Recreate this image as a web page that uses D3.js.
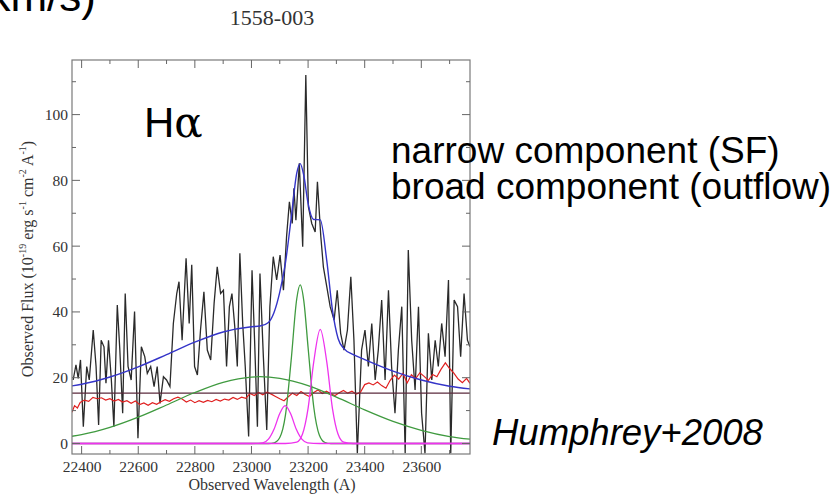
<!DOCTYPE html>
<html>
<head>
<meta charset="utf-8">
<script src="https://cdn.jsdelivr.net/npm/d3@7"></script>
<style>
  body { margin: 0; background: #fff; }
  svg { display: block; }
  .tick-label { font-family: "Liberation Serif", "DejaVu Serif", serif; font-size: 15.5px; fill: #333; }
</style>
</head>
<body>
<svg width="835" height="495"></svg>
<script>
// observed spectrum (black)
var specWl = [22370,22380,22388,22396,22406,22418,22427,22441,22451,22460,22469,22479,22486,22495,22505,22514,22526,22535,22545,22554,22564,22575,22587,22599,22611,22623,22632,22644,22656,22667,22677,22689,22700,22712,22724,22736,22744,22755,22769,22780,22789,22799,22809,22820,22832,22844,22856,22868,22879,22891,22901,22912,22922,22931,22941,22950,22959,22969,22978,22990,23002,23011,23021,23030,23042,23054,23065,23077,23089,23101,23113,23124,23134,23144,23150,23157,23169,23181,23192,23201,23213,23225,23233,23245,23254,23266,23278,23292,23303,23315,23327,23339,23351,23362,23374,23389,23401,23413,23425,23437,23448,23460,23472,23484,23495,23507,23519,23531,23543,23554,23566,23578,23590,23601,23613,23625,23637,23649,23660,23672,23684,23696,23704,23716,23728,23739,23751,23763,23772];
var specFlux = [19.3,23.9,19.8,25.4,5.1,23.4,19.3,34.5,23.4,5.6,31.4,29.4,18.3,31.4,19.3,5.1,42.1,28.4,9.2,45.6,23.4,19.3,40.1,1.6,29.4,26.4,21.3,23.4,17.3,23.4,12.2,20.3,19.3,17.3,36.5,45.6,49.2,31.4,56.3,36.5,54.3,23.4,20.8,34.5,46.1,28.4,25.4,42.6,53.7,45.6,46.6,23.4,41.6,45.6,35.5,23.4,57.8,36.5,23.4,2.1,52.7,31.4,5.1,51.7,26.4,4.1,41.6,56.8,49.7,57.3,46.6,62.9,73.5,66.9,77.6,67.9,85.2,59.8,112,72,66.9,64.3,79.6,62.9,53.7,47.7,41.6,37.5,46.6,33.5,28.4,34.5,50.7,31.4,-3,28.4,34.5,23.4,36.5,19.3,28.4,43.6,19.3,46.6,23.4,9.2,28.4,41.6,-3,58.8,31.4,16.3,41.6,9.2,-3,33.5,19.3,31.4,23.4,36.5,26.4,49.7,-3,43.6,41.6,26.4,45.6,31.4,29.4];

// sky / noise spectrum (red)
var skyWl = [22366,22375,22385,22395,22410,22425,22440,22455,22470,22485,22500,22515,22530,22545,22560,22575,22590,22605,22620,22635,22650,22665,22680,22695,22710,22725,22740,22755,22770,22785,22800,22815,22830,22845,22860,22875,22890,22905,22920,22935,22950,22965,22980,22995,23010,23025,23040,23055,23070,23085,23100,23115,23130,23145,23160,23175,23190,23205,23220,23235,23250,23265,23280,23295,23310,23325,23340,23355,23370,23385,23400,23415,23430,23445,23460,23475,23490,23505,23520,23535,23550,23565,23580,23595,23610,23625,23640,23655,23670,23685,23700,23715,23730,23745,23760,23772];
var skyFlux = [9.5,11.5,10.8,12.5,13.2,12.8,14.0,13.6,13.9,13.2,13.6,12.9,13.4,12.6,13.0,12.2,12.9,11.8,12.3,11.6,12.4,11.9,12.7,13.3,12.8,13.6,14.1,13.5,12.6,13.2,12.4,13.0,12.5,13.1,12.7,13.4,12.9,13.5,13.2,14.0,13.4,14.1,13.7,15.2,14.6,15.5,14.8,15.6,15.0,14.3,13.6,13.0,14.2,15.3,14.6,15.8,14.9,14.3,15.5,16.3,15.2,15.9,15.1,14.6,15.4,16.1,15.3,15.9,15.0,15.6,17.9,18.4,17.8,18.7,17.6,16.8,19.2,20.8,19.6,21.3,18.4,20.9,19.7,21.5,20.4,19.2,21.0,20.3,22.6,24.5,22.8,21.4,19.6,18.5,19.8,18.3];

// continuum level (horizontal line)
var contLevel = 15.3;

// broad Halpha component (green)
var broadWl = [22366,22400,22500,22600,22700,22800,22900,23000,23030,23100,23200,23300,23400,23500,23600,23700,23772];
var broadFlux = [2.2,2.7,4.9,8.0,11.7,15.5,18.6,20.2,20.3,19.8,17.6,14.1,10.2,6.7,4.0,2.1,1.3];

// narrow Halpha component (green)
var narrowWl = [22366,23040,23060,23080,23100,23120,23140,23160,23172,23185,23200,23220,23240,23260,23280,23772];
var narrowFlux = [0,0,0,0.2,1.8,8.6,25.1,44.0,48.2,43.3,29.2,11.1,2.5,0.3,0,0];

// [NII] components (magenta)
var nii1Wl = [22366,23000,23040,23060,23080,23100,23119,23138,23158,23178,23198,23240,23772];
var nii1Flux = [0,0,0.2,1.3,4.4,9.1,11.5,9.1,4.4,1.3,0.2,0,0];
var nii2Wl = [22366,23120,23160,23180,23200,23220,23243,23266,23286,23306,23326,23360,23772];
var nii2Flux = [0,0,0.4,2.8,10.7,24.8,34.7,24.8,10.7,2.8,0.4,0,0];

// total fit (blue)
var fitWl = [22366,22400,22500,22600,22700,22800,22900,23000,23030,23060,23080,23100,23120,23140,23160,23172,23185,23200,23220,23243,23266,23286,23306,23326,23360,23400,23500,23600,23700,23772];
var fitFlux = [17.5,18.0,20.2,23.3,27.0,30.8,33.9,35.5,35.7,36.8,39.9,46.0,54.9,68.3,82.2,85.1,81.4,73.0,68.1,68.0,55.6,40.6,31.9,28.9,27.0,25.5,22.0,19.3,17.4,16.6];

var xMajor = [22400,22600,22800,23000,23200,23400,23600];
var xMinor = [22500,22700,22900,23100,23300,23500,23700];
var yMajor = [0,20,40,60,80,100];
var yMinor = [10,30,50,70,90,110];

var svg = d3.select("svg");
var pLeft = 72, pRight = 470, pTop = 60, pBottom = 454;
var serif = '"Liberation Serif", "DejaVu Serif", serif';
var sans = '"Liberation Sans", Arial, sans-serif';

svg.append("rect").attr("width", 835).attr("height", 495).attr("fill", "#fff");

var x = d3.scaleLinear().domain([22366, 23772]).range([pLeft, pRight]);
var y = d3.scaleLinear().domain([-3.2, 116.6]).range([pBottom, pTop]);

svg.append("clipPath").attr("id", "plotclip")
  .append("rect").attr("x", pLeft).attr("y", pTop)
  .attr("width", pRight - pLeft).attr("height", pBottom - pTop);

var plot = svg.append("g").attr("clip-path", "url(#plotclip)");

function zip(a, b) { return a.map(function(v, i) { return [v, b[i]]; }); }

var lineRaw = d3.line().x(function(d) { return x(d[0]); }).y(function(d) { return y(d[1]); });
var lineSmooth = d3.line().x(function(d) { return x(d[0]); }).y(function(d) { return y(d[1]); })
  .curve(d3.curveMonotoneX);

plot.append("path").datum(zip(specWl, specFlux)).attr("d", lineRaw)
  .attr("fill", "none").attr("stroke", "#2a2a2a").attr("stroke-width", 1.3);

plot.append("path").datum(zip(skyWl, skyFlux)).attr("d", lineRaw)
  .attr("fill", "none").attr("stroke", "#e02020").attr("stroke-width", 1.2);

plot.append("line")
  .attr("x1", pLeft).attr("x2", pRight).attr("y1", y(contLevel)).attr("y2", y(contLevel))
  .attr("stroke", "#5b2a3c").attr("stroke-width", 1.3);

plot.append("path").datum(zip(broadWl, broadFlux)).attr("d", lineSmooth)
  .attr("fill", "none").attr("stroke", "#3f9a3f").attr("stroke-width", 1.3);
plot.append("path").datum(zip(narrowWl, narrowFlux)).attr("d", lineSmooth)
  .attr("fill", "none").attr("stroke", "#3f9a3f").attr("stroke-width", 1.3);

[zip(nii1Wl, nii1Flux), zip(nii2Wl, nii2Flux)].forEach(function(s) {
  plot.append("path").datum(s).attr("d", lineSmooth)
    .attr("fill", "none").attr("stroke", "#ee33ee").attr("stroke-width", 1.3);
});

plot.append("path").datum(zip(fitWl, fitFlux)).attr("d", lineSmooth)
  .attr("fill", "none").attr("stroke", "#3434c8").attr("stroke-width", 1.4);

// frame
svg.append("rect").attr("x", pLeft).attr("y", pTop)
  .attr("width", pRight - pLeft).attr("height", pBottom - pTop)
  .attr("fill", "none").attr("stroke", "#7a7a7a").attr("stroke-width", 1.2);

// inward ticks on all four sides
var tickCol = "#666";
function xTicks(vals, len) {
  vals.forEach(function(v) {
    svg.append("line").attr("x1", x(v)).attr("x2", x(v)).attr("y1", pBottom).attr("y2", pBottom - len)
      .attr("stroke", tickCol).attr("stroke-width", 1);
    svg.append("line").attr("x1", x(v)).attr("x2", x(v)).attr("y1", pTop).attr("y2", pTop + len)
      .attr("stroke", tickCol).attr("stroke-width", 1);
  });
}
function yTicks(vals, len) {
  vals.forEach(function(v) {
    svg.append("line").attr("x1", pLeft).attr("x2", pLeft + len).attr("y1", y(v)).attr("y2", y(v))
      .attr("stroke", tickCol).attr("stroke-width", 1);
    svg.append("line").attr("x1", pRight).attr("x2", pRight - len).attr("y1", y(v)).attr("y2", y(v))
      .attr("stroke", tickCol).attr("stroke-width", 1);
  });
}
xTicks(xMajor, 8); xTicks(xMinor, 4);
yTicks(yMajor, 8); yTicks(yMinor, 4);

// tick labels via d3 axes (lines hidden)
var xAxis = svg.append("g").attr("transform", "translate(0," + pBottom + ")")
  .call(d3.axisBottom(x).tickValues(xMajor).tickSize(0).tickPadding(7).tickFormat(d3.format("d")));
var yAxis = svg.append("g").attr("transform", "translate(" + pLeft + ",0)")
  .call(d3.axisLeft(y).tickValues(yMajor).tickSize(0).tickPadding(4).tickFormat(d3.format("d")));
[xAxis, yAxis].forEach(function(a) {
  a.select(".domain").remove();
  a.selectAll("text").attr("class", "tick-label").attr("font-family", null).attr("font-size", null);
});

// axis titles
svg.append("text").attr("x", 272).attr("y", 490).attr("text-anchor", "middle")
  .attr("font-family", serif).attr("font-size", 16).attr("fill", "#333")
  .text("Observed Wavelength (A)");

var yl = svg.append("text").attr("transform", "translate(33,259) rotate(-90)")
  .attr("text-anchor", "middle").attr("font-family", serif).attr("font-size", 16).attr("fill", "#333");
[["Observed Flux (10", 0], ["-19", 1], [" erg s", 0], ["-1", 1], [" cm", 0], ["-2", 1], [" A", 0], ["-1", 1], [")", 0]]
  .forEach(function(p, i, arr) {
    var t = yl.append("tspan").text(p[0]);
    if (p[1]) t.attr("font-size", 10).attr("dy", -7);
    else if (i > 0 && arr[i - 1][1]) t.attr("dy", 7);
  });

// title
svg.append("text").attr("x", 272).attr("y", 25).attr("text-anchor", "middle")
  .attr("font-family", serif).attr("font-size", 22).attr("fill", "#333").text("1558-003");

// slide annotations
svg.append("text").attr("x", 96).attr("y", 11).attr("text-anchor", "end")
  .attr("font-family", sans).attr("font-size", 44).attr("fill", "#000").text("(km/s)");

var ha = svg.append("text").attr("x", 144).attr("y", 137)
  .attr("font-family", sans).attr("font-size", 42).attr("fill", "#000");
ha.append("tspan").text("H");
ha.append("tspan").attr("font-family", '"DejaVu Serif", serif').text("α");

svg.append("text").attr("x", 391).attr("y", 163)
  .attr("font-family", sans).attr("font-size", 37).attr("fill", "#000").text("narrow component (SF)");
svg.append("text").attr("x", 391).attr("y", 199)
  .attr("font-family", sans).attr("font-size", 37).attr("fill", "#000").text("broad component (outflow)");

svg.append("text").attr("x", 492).attr("y", 445)
  .attr("font-family", sans).attr("font-size", 36.5).attr("font-style", "italic").attr("fill", "#000")
  .text("Humphrey+2008");
</script>
</body>
</html>
